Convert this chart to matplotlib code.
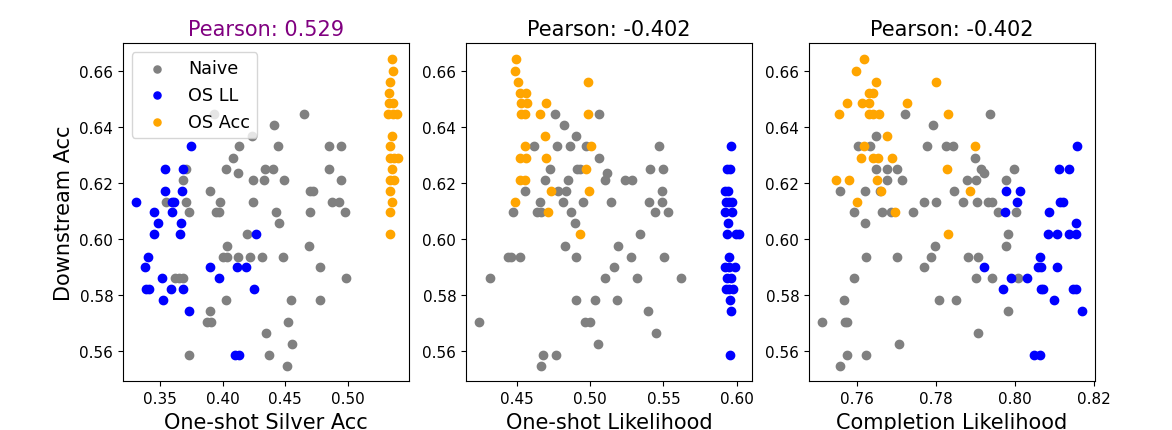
import matplotlib
matplotlib.use("Agg")
import matplotlib.pyplot as plt

# ---------------- Panel 1: One-shot Silver Acc ----------------
p1_naive_x = [0.3931, 0.4652, 0.4410, 0.4232, 0.4133, 0.4439, 0.4851, 0.4944, 0.4085,
              0.3707, 0.4024, 0.4338, 0.4404, 0.4851, 0.4125,
              0.3681, 0.4245, 0.4333, 0.4492, 0.4944,
              0.3899, 0.4697, 0.4724,
              0.3548, 0.3707, 0.3979, 0.4239, 0.4870, 0.4928,
              0.3734, 0.3947, 0.3973, 0.4426, 0.4700, 0.4976,
              0.4447, 0.4197, 0.4032, 0.4692,
              0.4005, 0.4037, 0.4125, 0.4218, 0.4314, 0.4479,
              0.4777, 0.3620, 0.3654, 0.3686, 0.4982,
              0.4027, 0.4545, 0.4777, 0.3899, 0.3878, 0.3904, 0.4519,
              0.4343, 0.4551, 0.3734, 0.4370, 0.4511]
p1_naive_y = [0.6446, 0.6446, 0.6407, 0.6369, 0.6331, 0.6331, 0.6331, 0.6331, 0.6289,
              0.6250, 0.6250, 0.6250, 0.6250, 0.6250, 0.6236,
              0.6212, 0.6212, 0.6212, 0.6212, 0.6212,
              0.6172, 0.6172, 0.6172,
              0.6134, 0.6134, 0.6134, 0.6134, 0.6134, 0.6134,
              0.6095, 0.6095, 0.6095, 0.6095, 0.6095, 0.6095,
              0.6057, 0.6018, 0.5977, 0.5977,
              0.5937, 0.5937, 0.5937, 0.5937, 0.5937, 0.5937,
              0.5899, 0.5860, 0.5860, 0.5860, 0.5860,
              0.5783, 0.5783, 0.5783, 0.5744, 0.5704, 0.5704, 0.5704,
              0.5664, 0.5625, 0.5586, 0.5586, 0.5547]
p1_ll_x = [0.3745, 0.3540, 0.3686, 0.3540, 0.3678, 0.3308, 0.3593, 0.3614,
           0.3455, 0.3598, 0.3481, 0.3668, 0.3452, 0.3660, 0.4266, 0.3402,
           0.3380, 0.3899, 0.4117, 0.4184, 0.3519, 0.3973,
           0.3388, 0.3415, 0.3588, 0.3686, 0.4253, 0.3527, 0.3731, 0.4099, 0.4130]
p1_ll_y = [0.6331, 0.6250, 0.6250, 0.6172, 0.6172, 0.6134, 0.6134, 0.6134,
           0.6095, 0.6095, 0.6057, 0.6057, 0.6018, 0.6018, 0.6018, 0.5937,
           0.5899, 0.5899, 0.5899, 0.5899, 0.5860, 0.5860,
           0.5821, 0.5821, 0.5821, 0.5821, 0.5821, 0.5783, 0.5744, 0.5586, 0.5586]
p1_acc_x = [0.5349, 0.5362, 0.5338, 0.5325, 0.5330, 0.5357, 0.5322, 0.5357, 0.5389,
            0.5354, 0.5338, 0.5335, 0.5367, 0.5402, 0.5354, 0.5335, 0.5367,
            0.5335, 0.5349, 0.5335, 0.5335]
p1_acc_y = [0.6644, 0.6600, 0.6562, 0.6523, 0.6485, 0.6485, 0.6446, 0.6446, 0.6446,
            0.6369, 0.6331, 0.6289, 0.6289, 0.6289, 0.6250, 0.6212, 0.6212,
            0.6172, 0.6134, 0.6095, 0.6018]

# ---------------- Panel 2: One-shot Likelihood ----------------
p2_naive_x = [0.4755, 0.5058, 0.4823, 0.4899, 0.4618, 0.4773, 0.4858, 0.4967, 0.5468,
              0.5058, 0.4721, 0.4908, 0.4931, 0.5409, 0.5500, 0.5113,
              0.4687, 0.4846, 0.5097, 0.5240, 0.5286,
              0.4550, 0.4778, 0.4835, 0.5491,
              0.4657, 0.4812, 0.4949, 0.5142, 0.5404, 0.5491,
              0.4470, 0.4637, 0.4664, 0.4869, 0.5439, 0.5530,
              0.4892, 0.5338, 0.4830, 0.5190,
              0.4436, 0.4459, 0.4521, 0.4899, 0.5275, 0.5502,
              0.5161, 0.4311, 0.5097, 0.5316, 0.5623,
              0.4903, 0.5035, 0.5183, 0.5395, 0.4238, 0.4960, 0.4999,
              0.5448, 0.5051, 0.4675, 0.4767, 0.4664]
p2_naive_y = [0.6446, 0.6446, 0.6407, 0.6369, 0.6331, 0.6331, 0.6331, 0.6331, 0.6331,
              0.6289, 0.6250, 0.6250, 0.6250, 0.6250, 0.6250, 0.6236,
              0.6212, 0.6212, 0.6212, 0.6212, 0.6212,
              0.6172, 0.6172, 0.6172, 0.6172,
              0.6134, 0.6134, 0.6134, 0.6134, 0.6134, 0.6134,
              0.6095, 0.6095, 0.6095, 0.6095, 0.6095, 0.6095,
              0.6057, 0.6018, 0.5977, 0.5977,
              0.5937, 0.5937, 0.5937, 0.5937, 0.5937, 0.5937,
              0.5899, 0.5860, 0.5860, 0.5860, 0.5860,
              0.5783, 0.5783, 0.5783, 0.5744, 0.5704, 0.5704, 0.5704,
              0.5664, 0.5625, 0.5586, 0.5586, 0.5547]
p2_ll_x = [0.5964, 0.5932, 0.5952, 0.5918, 0.5941, 0.5925, 0.5948, 0.5970,
           0.5920, 0.5970, 0.5941, 0.5936, 0.5993, 0.6016, 0.5948,
           0.5918, 0.5948, 0.5989, 0.5936, 0.5959, 0.5925, 0.5948, 0.5975,
           0.5952, 0.5964, 0.5952]
p2_ll_y = [0.6331, 0.6250, 0.6250, 0.6172, 0.6172, 0.6134, 0.6134, 0.6134,
           0.6095, 0.6095, 0.6057, 0.6018, 0.6018, 0.6018, 0.5937,
           0.5899, 0.5899, 0.5899, 0.5860, 0.5860, 0.5821, 0.5821, 0.5821,
           0.5783, 0.5744, 0.5586]
p2_acc_x = [0.4493, 0.4482, 0.4505, 0.4983, 0.4516, 0.4557, 0.4527, 0.4566, 0.4698,
            0.4523, 0.4550, 0.4653, 0.4987, 0.4691, 0.4555, 0.5001,
            0.4516, 0.4562, 0.4698, 0.4972, 0.4516, 0.4550, 0.4732, 0.4994,
            0.4482, 0.4710, 0.4931]
p2_acc_y = [0.6644, 0.6600, 0.6562, 0.6562, 0.6523, 0.6523, 0.6485, 0.6485, 0.6485,
            0.6446, 0.6446, 0.6446, 0.6446, 0.6369, 0.6331, 0.6331,
            0.6289, 0.6289, 0.6289, 0.6250, 0.6212, 0.6212, 0.6172, 0.6172,
            0.6134, 0.6095, 0.6018]

# ---------------- Panel 3: Completion Likelihood ----------------
p3_naive_x = [0.7720, 0.7935, 0.7793, 0.7648, 0.7602, 0.7633, 0.7777, 0.7825, 0.7842,
              0.7897, 0.7648, 0.7676, 0.7700, 0.7914, 0.7998, 0.7922,
              0.7675, 0.7713, 0.7878, 0.7901, 0.7977,
              0.7557, 0.7620, 0.7657, 0.7846,
              0.7770, 0.7800, 0.7868, 0.7904, 0.7931, 0.7942,
              0.7591, 0.7663, 0.7686, 0.7741, 0.7956, 0.8001,
              0.7619, 0.7981, 0.7797, 0.7976,
              0.7623, 0.7700, 0.7786, 0.7880, 0.7906,
              0.7770, 0.7592, 0.7901, 0.7941, 0.8007,
              0.7566, 0.7807, 0.7849, 0.7981, 0.7512, 0.7568, 0.7575,
              0.7906, 0.7705, 0.7575, 0.7623, 0.7557]
p3_naive_y = [0.6446, 0.6446, 0.6407, 0.6369, 0.6331, 0.6331, 0.6331, 0.6331, 0.6331,
              0.6289, 0.6250, 0.6250, 0.6250, 0.6250, 0.6250, 0.6236,
              0.6212, 0.6212, 0.6212, 0.6212, 0.6212,
              0.6172, 0.6172, 0.6172, 0.6172,
              0.6134, 0.6134, 0.6134, 0.6134, 0.6134, 0.6134,
              0.6095, 0.6095, 0.6095, 0.6095, 0.6095, 0.6095,
              0.6057, 0.6018, 0.5977, 0.5977,
              0.5937, 0.5937, 0.5937, 0.5937, 0.5937,
              0.5899, 0.5860, 0.5860, 0.5860, 0.5860,
              0.5783, 0.5783, 0.5783, 0.5744, 0.5704, 0.5704, 0.5704,
              0.5664, 0.5625, 0.5586, 0.5586, 0.5547]
p3_ll_x = [0.8156, 0.8111, 0.8135, 0.7976, 0.8012, 0.8004, 0.8114, 0.8120,
           0.7975, 0.8086, 0.8154, 0.8082, 0.8105, 0.8137, 0.8154, 0.8062,
           0.7920, 0.8057, 0.8065, 0.8105, 0.7989, 0.8030,
           0.7970, 0.8065, 0.8071, 0.8145, 0.8155, 0.8098, 0.8168, 0.8048, 0.8063]
p3_ll_y = [0.6331, 0.6250, 0.6250, 0.6172, 0.6172, 0.6134, 0.6134, 0.6134,
           0.6095, 0.6095, 0.6057, 0.6018, 0.6018, 0.6018, 0.6018, 0.5937,
           0.5899, 0.5899, 0.5899, 0.5899, 0.5860, 0.5860,
           0.5821, 0.5821, 0.5821, 0.5821, 0.5821, 0.5783, 0.5744, 0.5586, 0.5586]
p3_acc_x = [0.7616, 0.7596, 0.7648, 0.7800, 0.7631, 0.7640, 0.7574, 0.7612, 0.7629,
            0.7726, 0.7554, 0.7629, 0.7640, 0.7654, 0.7831, 0.7676, 0.7616, 0.7897,
            0.7610, 0.7640, 0.7652, 0.7688, 0.7828, 0.7547, 0.7578, 0.7650,
            0.7659, 0.7886, 0.7599, 0.7695, 0.7830]
p3_acc_y = [0.6644, 0.6600, 0.6562, 0.6562, 0.6523, 0.6523, 0.6485, 0.6485, 0.6485,
            0.6485, 0.6446, 0.6446, 0.6446, 0.6446, 0.6446, 0.6369, 0.6331, 0.6331,
            0.6289, 0.6289, 0.6289, 0.6289, 0.6250, 0.6212, 0.6212, 0.6212,
            0.6172, 0.6172, 0.6134, 0.6095, 0.6018]

titles = ["Pearson: 0.529", "Pearson: -0.402", "Pearson: -0.402"]
title_colors = ["purple", "black", "black"]
xlabels = ["One-shot Silver Acc", "One-shot Likelihood", "Completion Likelihood"]
xticks = [[0.35, 0.40, 0.45, 0.50], [0.45, 0.50, 0.55, 0.60], [0.76, 0.78, 0.80, 0.82]]
xlims = [(0.3205, 0.5485), (0.4150, 0.6103), (0.7478, 0.8201)]
series_labels = ["Naive", "OS LL", "OS Acc"]
series_colors = ["gray", "blue", "orange"]

panels = [
    [(p1_naive_x, p1_naive_y), (p1_ll_x, p1_ll_y), (p1_acc_x, p1_acc_y)],
    [(p2_naive_x, p2_naive_y), (p2_ll_x, p2_ll_y), (p2_acc_x, p2_acc_y)],
    [(p3_naive_x, p3_naive_y), (p3_ll_x, p3_ll_y), (p3_acc_x, p3_acc_y)],
]

fig, axes = plt.subplots(1, 3, figsize=(11.72, 4.31), dpi=100)
fig.subplots_adjust(left=0.105, right=0.934, top=0.897, bottom=0.113, wspace=0.201)

for i, ax in enumerate(axes):
    for (xs, ys), lab, col in zip(panels[i], series_labels, series_colors):
        ax.scatter(xs, ys, color=col, label=lab, s=36)
    ax.set_title(titles[i], fontsize=15, color=title_colors[i])
    ax.set_xlabel(xlabels[i], fontsize=15)
    ax.set_xticks(xticks[i])
    ax.set_xticklabels([f"{t:.2f}" for t in xticks[i]])
    ax.set_xlim(*xlims[i])
    ax.set_yticks([0.56, 0.58, 0.60, 0.62, 0.64, 0.66])
    ax.tick_params(labelsize=11)

axes[0].set_ylabel("Downstream Acc", fontsize=15)
axes[0].legend(loc="upper left", fontsize=12.7, markerscale=0.85)

fig.savefig("out.png", dpi=100)
